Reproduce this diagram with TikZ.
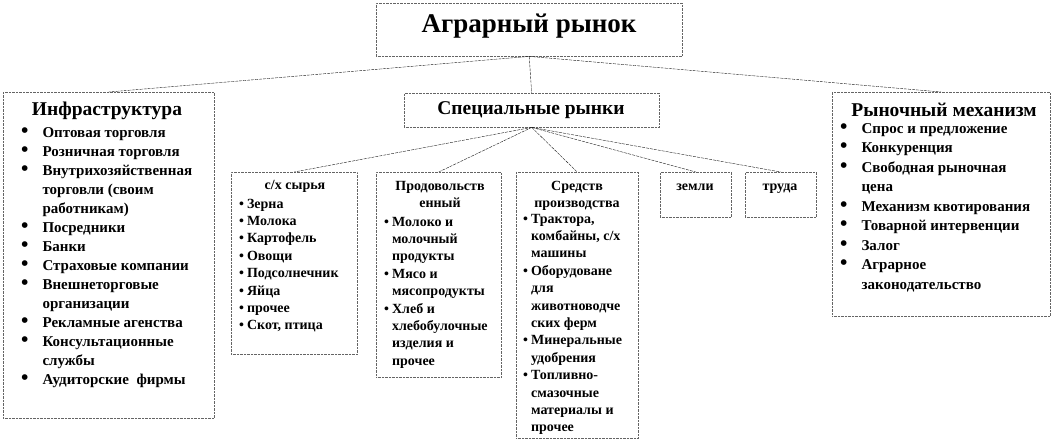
\documentclass[tikz,border=0pt]{standalone}
\usepackage{fontspec}
\setmainfont{Liberation Serif}
\usepackage{xcolor}
\definecolor{FrameGray}{RGB}{100,100,100}
\definecolor{LinkBlack}{RGB}{25,25,25}
\newcommand{\titlefont}{\fontsize{27}{32}\selectfont\bfseries}
\newcommand{\headfont}{\fontsize{19.5}{22}\selectfont\bfseries}
\newcommand{\bigitems}{\fontsize{15}{19}\selectfont\bfseries}
\newcommand{\marketitems}{\fontsize{15}{19.5}\selectfont\bfseries}
\newcommand{\smallitems}{\fontsize{14}{17.4}\selectfont\bfseries}
\newcommand{\bigdot}{\scalebox{1.4}{\textbullet}}

\begin{document}
\begin{tikzpicture}[x=1pt, y=-1pt, every node/.style={inner sep=0pt}]
  \tikzstyle{frame}=[draw=FrameGray, densely dotted, thin, fill=white, anchor=north west]
  \tikzstyle{link}=[draw=LinkBlack, thin, dash pattern=on 3pt off 1pt]
  \useasboundingbox (0,0) rectangle (1054,442);

  % top level
  \node[frame, minimum width=306pt, minimum height=53pt] (agro) at (376,3) {};
  \node[font=\titlefont, anchor=base] (agrotxt) at (529,32) {Аграрный рынок};

  \node[frame, minimum width=211pt, minimum height=326pt] (infra) at (3,92) {};
  \node[frame, minimum width=255pt, minimum height=34pt] (spec) at (404,93) {};
  \node[frame, minimum width=218pt, minimum height=224pt] (market) at (832,92) {};

  % special markets
  \node[frame, minimum width=126pt, minimum height=182pt] (raw) at (231,172) {};
  \node[frame, minimum width=125pt, minimum height=205pt] (food) at (376,172) {};
  \node[frame, minimum width=122pt, minimum height=266pt] (means) at (516,172) {};
  \node[frame, minimum width=71pt, minimum height=45pt] (land) at (660,172) {};
  \node[frame, minimum width=71pt, minimum height=45pt] (labour) at (745,172) {};

  % infrastructure
  \node[font=\headfont, anchor=base] (infrahead) at (107,115) {Инфраструктура};
  \node[font=\bigitems, anchor=base west] (infralist) at (21,137) {%
    \begin{tabular}[t]{@{}l@{\hspace{14pt}}l@{}}
      \bigdot & Оптовая торговля\\
      \bigdot & Розничная торговля\\
      \bigdot & Внутрихозяйственная\\
              & торговли (своим\\
              & работникам)\\
      \bigdot & Посредники\\
      \bigdot & Банки\\
      \bigdot & Страховые компании\\
      \bigdot & Внешнеторговые\\
              & организации\\
      \bigdot & Рекламные агенства\\
      \bigdot & Консультационные\\
              & службы\\
      \bigdot & Аудиторские\ \ фирмы
    \end{tabular}};

  \node[font=\headfont, anchor=base] (spectxt) at (531,114) {Специальные рынки};

  % market mechanism
  \node[font=\headfont, anchor=base] (markethead) at (944,116) {Рыночный механизм};
  \node[font=\marketitems, anchor=base west] (marketlist) at (840,133) {%
    \begin{tabular}[t]{@{}l@{\hspace{14pt}}l@{}}
      \bigdot & Спрос и предложение\\
      \bigdot & Конкуренция\\
      \bigdot & Свободная рыночная\\
              & цена\\
      \bigdot & Механизм квотирования\\
      \bigdot & Товарной интервенции\\
      \bigdot & Залог\\
      \bigdot & Аграрное\\
              & законодательство
    \end{tabular}};

  % raw materials
  \node[font=\smallitems, anchor=base] (rawhead) at (295,189) {с/х сырья};
  \node[font=\smallitems, anchor=base west] (rawlist) at (239,208) {%
    \begin{tabular}[t]{@{}l@{\hspace{3pt}}l@{}}
      \textbullet & Зерна\\
      \textbullet & Молока\\
      \textbullet & Картофель\\
      \textbullet & Овощи\\
      \textbullet & Подсолнечник\\
      \textbullet & Яйца\\
      \textbullet & прочее\\
      \textbullet & Скот, птица
    \end{tabular}};

  % food
  \node[font=\smallitems, anchor=base] (foodhead) at (440,190) {%
    \begin{tabular}[t]{@{}c@{}}Продовольств\\енный\end{tabular}};
  \node[font=\smallitems, anchor=base west] (foodlist) at (384,226) {%
    \begin{tabular}[t]{@{}l@{\hspace{3pt}}l@{}}
      \textbullet & Молоко и\\
                  & молочный\\
                  & продукты\\
      \textbullet & Мясо и\\
                  & мясопродукты\\
      \textbullet & Хлеб и\\
                  & хлебобулочные\\
                  & изделия и\\
                  & прочее
    \end{tabular}};

  % means of production
  \node[font=\smallitems, anchor=base] (meanshead) at (577,190) {%
    \begin{tabular}[t]{@{}c@{}}Средств\\производства\end{tabular}};
  \node[font=\smallitems, anchor=base west] (meanslist) at (523,223) {%
    \begin{tabular}[t]{@{}l@{\hspace{3pt}}l@{}}
      \textbullet & Трактора,\\
                  & комбайны, с/х\\
                  & машины\\
      \textbullet & Оборудоване\\
                  & для\\
                  & животноводче\\
                  & ских ферм\\
      \textbullet & Минеральные\\
                  & удобрения\\
      \textbullet & Топливно-\\
                  & смазочные\\
                  & материалы и\\
                  & прочее
    \end{tabular}};

  \node[font=\smallitems, anchor=base] (landtxt) at (695,190) {земли};
  \node[font=\smallitems, anchor=base] (labourtxt) at (780,190) {труда};

  % connectors
  \draw[link] (agro.south) -- (infra.north);
  \draw[link] (agro.south) -- (spec.north);
  \draw[link] (agro.south) -- (market.north);
  \foreach \t in {raw, food, means, land, labour}
    \draw[link] (spec.south) -- (\t.north);
\end{tikzpicture}
\end{document}
